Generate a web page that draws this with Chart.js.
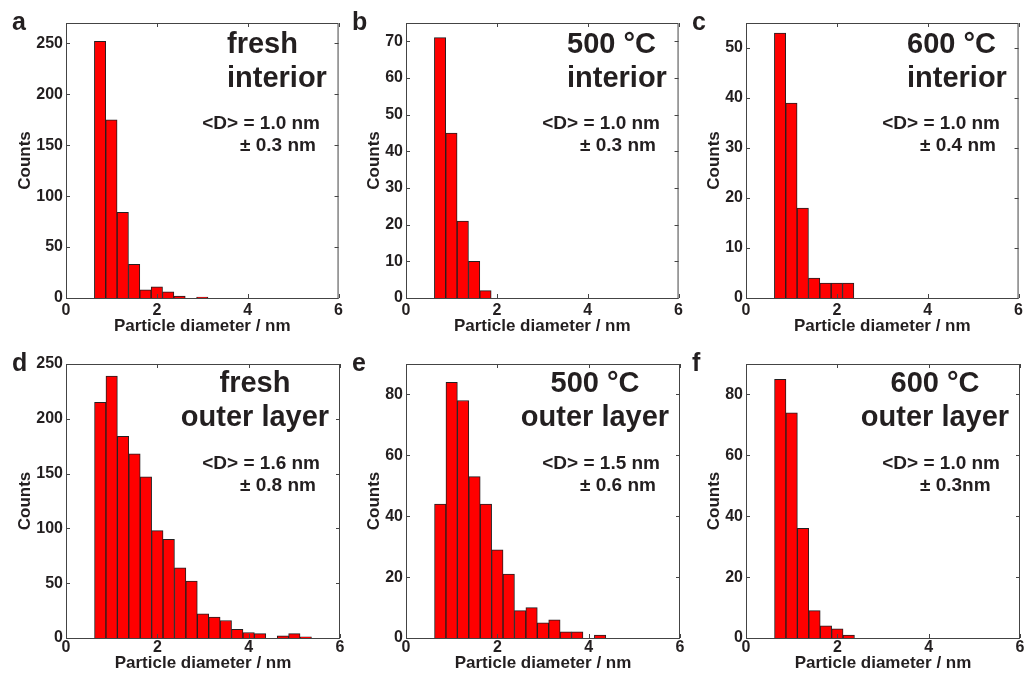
<!DOCTYPE html>
<html>
<head>
<meta charset="utf-8">
<script src="https://cdn.jsdelivr.net/npm/chart.js@4.4.1/dist/chart.umd.min.js"></script>
<style>
html, body { margin: 0; padding: 0; background: #fff; overflow: hidden; }
body { width: 1025px; height: 674px; position: relative; }
canvas { position: absolute; }
</style>
</head>
<body>
<canvas id="grafA" width="343" height="340" style="left:3px;top:0px"></canvas>
<canvas id="grafB" width="343" height="340" style="left:343px;top:0px"></canvas>
<canvas id="grafC" width="343" height="340" style="left:683px;top:0px"></canvas>
<canvas id="grafD" width="343" height="333" style="left:3px;top:341px"></canvas>
<canvas id="grafE" width="343" height="333" style="left:343px;top:341px"></canvas>
<canvas id="grafF" width="343" height="333" style="left:683px;top:341px"></canvas>

<script>
// histogram bins (nm), width 0.25
const binCenters = [0.75, 1.0, 1.25, 1.5, 1.75, 2.0, 2.25, 2.5, 2.75, 3.0,
                    3.25, 3.5, 3.75, 4.0, 4.25, 4.5, 4.75, 5.0, 5.25];

const countsFreshInterior = [252, 175, 84, 33, 8, 11, 6, 2, 0, 1];
const counts500Interior = [71, 45, 21, 10, 2];
const counts600Interior = [53, 39, 18, 4, 3, 3, 3];
const countsFreshOuter = [215, 239, 184, 168, 147, 98, 90, 64, 52, 22, 19, 16, 8, 5, 4, 0, 2, 4, 1];
const counts500Outer = [44, 84, 78, 53, 44, 29, 21, 9, 10, 5, 6, 2, 2, 0, 1];
const counts600Outer = [85, 74, 36, 9, 4, 3, 1];

const xTicks = [0, 2, 4, 6];
const yTicksA = [0, 50, 100, 150, 200, 250];
const yTicksB = [0, 10, 20, 30, 40, 50, 60, 70];
const yTicksC = [0, 10, 20, 30, 40, 50];
const yTicksD = [0, 50, 100, 150, 200, 250];
const yTicksE = [0, 20, 40, 60, 80];
const yTicksF = [0, 20, 40, 60, 80];
const yMaxes = [270, 75, 55, 250, 90, 90];

const panelLetters = ['a', 'b', 'c', 'd', 'e', 'f'];
const panelTitles = [
    ['fresh', 'interior'], ['500 °C', 'interior'], ['600 °C', 'interior'],
    ['fresh', 'outer layer'], ['500 °C', 'outer layer'], ['600 °C', 'outer layer']
];
const panelStats = [
    ['<D> = 1.0 nm', '± 0.3 nm'], ['<D> = 1.0 nm', '± 0.3 nm'], ['<D> = 1.0 nm', '± 0.4 nm'],
    ['<D> = 1.6 nm', '± 0.8 nm'], ['<D> = 1.5 nm', '± 0.6 nm'], ['<D> = 1.0 nm', '± 0.3nm']
];

const corTexto = '#231f20';
const corEixo = '#444';
Chart.defaults.font.family = '"Liberation Sans", Arial, sans-serif';

// frame, inner ticks, panel letter and annotations
const decoracaoPainel = {
    id: 'decoracaoPainel',
    afterDraw(chart, args, opts) {
        const { ctx, chartArea: a, scales: { x, y } } = chart;
        ctx.save();
        ctx.strokeStyle = corEixo;
        ctx.lineWidth = 1;
        ctx.strokeRect(a.left + 0.5, a.top + 0.5, a.right - a.left - 1, a.bottom - a.top);

        ctx.beginPath();
        y.ticks.forEach(t => {
            const py = Math.round(y.getPixelForValue(t.value)) + 0.5;
            ctx.moveTo(a.left, py); ctx.lineTo(a.left + 4, py);
            ctx.moveTo(a.right, py); ctx.lineTo(a.right - 4, py);
        });
        x.ticks.forEach(t => {
            const px = Math.round(x.getPixelForValue(t.value)) + 0.5;
            ctx.moveTo(px, a.bottom); ctx.lineTo(px, a.bottom - 4);
            ctx.moveTo(px, a.top); ctx.lineTo(px, a.top + 4);
        });
        ctx.stroke();

        ctx.fillStyle = corTexto;
        ctx.textBaseline = 'alphabetic';
        ctx.font = 'bold 25px "Liberation Sans", Arial, sans-serif';
        ctx.textAlign = 'left';
        ctx.fillText(opts.letra, a.left - 54, a.top + 7);

        ctx.font = 'bold 29px "Liberation Sans", Arial, sans-serif';
        if (opts.linha == 0) {
            ctx.textAlign = 'left';
            ctx.fillText(opts.titulo[0], a.left + 161, a.top + 30);
            ctx.fillText(opts.titulo[1], a.left + 161, a.top + 64);
        } else {
            ctx.textAlign = 'center';
            ctx.fillText(opts.titulo[0], a.left + 189, a.top + 28);
            ctx.fillText(opts.titulo[1], a.left + 189, a.top + 62);
        }

        ctx.font = 'bold 19px "Liberation Sans", Arial, sans-serif';
        ctx.textAlign = 'right';
        const dy = opts.linha == 0 ? 0 : -1;
        ctx.fillText(opts.stats[0], a.left + 254, a.top + 106 + dy);
        ctx.textAlign = 'left';
        ctx.fillText(opts.stats[1], a.left + 174, a.top + 128 + dy);
        ctx.restore();
    }
};

function criarPainel(idCanvas, indice, contagens, yTicks) {
    const linha = indice < 3 ? 0 : 1;
    const larguraTitulo = yTicks[yTicks.length - 1] >= 100 ? 12 : 21;
    const alturaEixoX = linha == 0 ? 42 : 36;

    const ctx = document.getElementById(idCanvas).getContext('2d');
    return new Chart(ctx, {
        type: 'bar',
        data: {
            datasets: [{
                data: contagens.map((c, i) => ({ x: binCenters[i], y: c })),
                backgroundColor: '#ff0000',
                borderColor: corTexto,
                borderWidth: 1,
                barPercentage: 1,
                categoryPercentage: 1
            }]
        },
        options: {
            responsive: false,
            animation: false,
            layout: { padding: { left: 0, right: 6, top: 23, bottom: 0 } },
            plugins: {
                legend: { display: false },
                tooltip: { enabled: false },
                decoracaoPainel: {
                    letra: panelLetters[indice],
                    titulo: panelTitles[indice],
                    stats: panelStats[indice],
                    linha: linha
                }
            },
            scales: {
                x: {
                    type: 'linear',
                    min: 0,
                    max: 6,
                    offset: false,
                    grid: { display: false, drawTicks: false, offset: false },
                    border: { display: false },
                    afterBuildTicks: s => { s.ticks = xTicks.map(v => ({ value: v })); },
                    afterFit: s => { s.height = alturaEixoX; },
                    ticks: {
                        color: corTexto,
                        font: { size: 16, weight: 'bold' },
                        padding: linha == 0 ? 3 : 0,
                        maxRotation: 0,
                        autoSkip: false
                    },
                    title: {
                        display: true,
                        text: 'Particle diameter / nm',
                        color: corTexto,
                        font: { size: 17, weight: 'bold' },
                        padding: { top: 0, bottom: linha == 0 ? 3 : 0 }
                    }
                },
                y: {
                    min: 0,
                    max: yMaxes[indice],
                    grid: { display: false, drawTicks: false },
                    border: { display: false },
                    afterBuildTicks: s => { s.ticks = yTicks.map(v => ({ value: v })); },
                    afterFit: s => { s.width = 63; },
                    ticks: {
                        color: corTexto,
                        font: { size: 16, weight: 'bold' },
                        padding: 3
                    },
                    title: {
                        display: true,
                        text: 'Counts',
                        color: corTexto,
                        font: { size: 17, weight: 'bold' },
                        padding: { top: larguraTitulo, bottom: 0 }
                    }
                }
            }
        },
        plugins: [decoracaoPainel]
    });
}

document.addEventListener('DOMContentLoaded', function() {
    criarPainel('grafA', 0, countsFreshInterior, yTicksA);
    criarPainel('grafB', 1, counts500Interior, yTicksB);
    criarPainel('grafC', 2, counts600Interior, yTicksC);
    criarPainel('grafD', 3, countsFreshOuter, yTicksD);
    criarPainel('grafE', 4, counts500Outer, yTicksE);
    criarPainel('grafF', 5, counts600Outer, yTicksF);
});
</script>
</body>
</html>
